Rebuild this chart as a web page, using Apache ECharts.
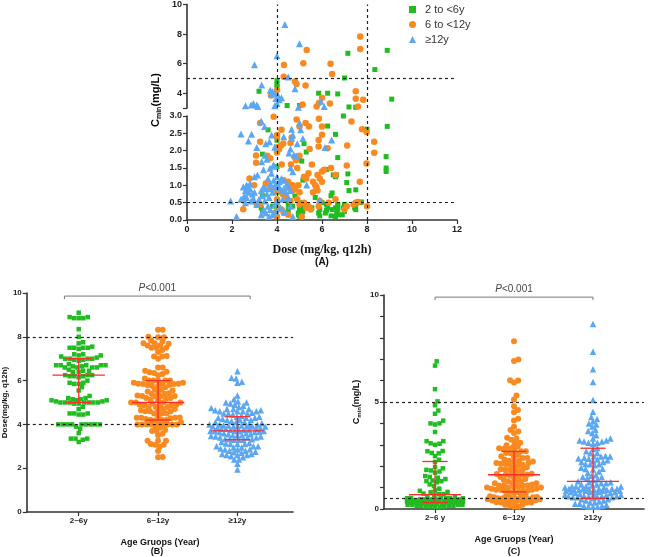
<!DOCTYPE html>
<html>
<head>
<meta charset="utf-8">
<script src="https://cdn.jsdelivr.net/npm/echarts@6/dist/echarts.min.js"></script>
<style>html,body{margin:0;padding:0;background:#fff}</style>
</head>
<body>
<div id="main" style="width:657px;height:557px;"></div>
<script>
// group names
var groupNames = ['2 to <6y', '6 to <12y', '≥12y'];
var bCats = ['2~6y', '6~12y', '≥12y'];
var cCats = ['2~6 y', '6~12y', '≥12y'];

// [dose, Cmin] per patient
var greenPts = [
  [8.9,6.9],[9.1,3.6],[8.9,2.7],[8.85,1.83],[8.85,1.5],[8.85,1.4],
  [8.35,5.6],[8.0,2.62],[7.7,0.5],[7.75,0.52],
  [7.5,3.05],[7.5,0.87],[7.5,0.45],[7.45,0.35],[7.5,0.3],[7.55,0.5],
  [7.15,6.7],[7.2,3.07],[7.15,1.33],[7.1,1.08],[7.2,0.85],
  [7.0,5.03],[6.95,3.0],[7.0,0.45],[6.95,0.35],[7.0,0.25],[6.9,0.15],[7.05,0.4],[7.0,0.3],
  [6.7,3.95],[6.7,1.8],[6.6,2.47],[6.65,1.3],[6.6,1.25],[6.7,0.45],[6.7,0.3],[6.65,0.2],[6.6,0.1],[6.75,0.15],[6.7,0.4],[6.6,0.35],
  [6.45,0.78],[6.4,0.7],[6.5,1.3],[6.4,0.12],[6.45,0.3],
  [6.25,4.0],[6.25,2.71],[6.2,1.46],[6.2,0.45],[6.25,0.35],[6.15,0.2],[6.2,0.28],
  [5.85,4.0],[5.9,0.3],[5.85,0.2],[5.9,0.12],[6.0,0.5],
  [5.7,0.65],[5.55,0.35],[5.3,1.96],
  [5.2,2.2],[5.1,1.7],[5.15,1.15],[5.1,0.15],[5.15,0.25],[5.2,0.35],[5.1,0.4],
  [5.0,3.17],[5.0,1.75],[5.0,0.5],[5.0,0.4],[5.0,0.3],[4.95,0.2],[5.0,0.12],[5.05,0.1],[4.95,0.15],[5.0,0.25],[5.05,0.35],
  [4.8,0.69],[4.7,0.4],
  [4.45,3.17],[4.5,0.55],[4.5,0.45],[4.45,0.6],[4.5,0.3],
  [4.0,4.85],[4.0,4.6],[4.0,4.45],[4.0,2.3],[4.0,1.54],[4.0,0.95],[4.0,0.8],[4.0,0.5],[4.0,0.35],
  [3.9,0.2],[3.8,0.4],[3.6,2.6],
  [3.35,1.9],[3.35,0.72],[3.3,0.35],[3.35,0.25],[3.2,4.13]
];
var orangePts = [
  [7.7,7.84],[7.7,6.99],[5.32,6.92],[4.31,5.91],[5.17,6.02],[6.38,6.0],[6.45,5.3],[4.3,5.12],
  [4.8,4.8],[4.87,4.63],[5.27,4.52],[4.0,4.22],[3.74,3.84],[5.14,3.24],[5.76,3.1],[5.86,3.33],
  [6.0,3.69],[6.35,3.3],[7.5,4.13],[7.5,3.62],[7.83,3.55],[7.6,3.1],
  [3.85,2.98],[3.25,2.8],[4.0,2.45],[4.0,2.38],[4.0,2.1],[4.2,2.6],[4.87,2.9],[5.0,2.7],
  [5.27,2.8],[5.42,2.7],[5.86,2.92],[6.0,2.7],[7.31,2.84],[7.78,2.62],[7.98,2.54],[8.32,2.26],
  [7.12,2.15],[5.85,2.31],[5.85,2.12],[6.0,2.46],[6.25,2.07],[4.65,2.38],[4.6,2.22],[4.28,2.21],
  [4.18,2.15],[3.25,2.26],[4.1,2.05],[5.45,2.05],
  [4.0,1.95],[8.32,1.94],[7.98,1.63],[7.1,1.57],[7.68,1.1],[4.62,1.6],[4.21,1.6],[3.07,1.86],
  [3.07,1.65],[3.57,1.85],[3.7,1.78],[4.8,1.8],[4.85,1.72],[5.0,1.85],[2.78,1.2],[2.98,1.0],
  [3.5,1.05],[4.3,1.15],[4.5,1.1],[4.7,1.0],[5.2,1.25],[5.4,1.35],[5.3,1.2],[5.6,1.1],
  [5.7,1.0],[5.8,1.3],[6.0,1.4],[6.1,1.45],[5.9,1.2],[6.0,1.1],[6.6,1.3],[6.4,1.5],[4.9,1.5],[5.55,1.6],
  [2.51,0.56],[2.5,0.31],[3.1,0.45],[3.7,0.9],[3.25,0.45],[4.0,0.85],[4.0,0.6],[4.0,0.1],
  [4.05,0.3],[4.2,0.3],[4.5,0.95],[4.6,0.9],[4.7,0.85],[4.4,0.65],[4.6,0.55],[4.8,0.9],
  [5.0,0.8],[4.9,0.6],[5.0,0.45],[5.2,0.5],[5.3,0.35],[5.4,0.4],[5.5,0.3],[5.8,0.85],
  [5.6,0.8],[5.9,0.55],[5.85,0.4],[5.1,0.1],[4.5,0.15],[4.3,0.2],[7.0,0.3],[7.1,0.4],
  [7.4,0.45],[7.5,0.5],[7.6,0.52],[8.0,0.4],[6.3,0.5],[6.6,0.6],[5.75,0.95],[4.95,1.0],[4.25,0.75],[3.9,0.2]
];
var bluePts = [
  [4.35,8.65],[5.0,7.35],[4.0,6.53],[3.0,5.93],[4.5,5.09],[3.32,4.55],[4.8,4.3],[3.7,4.2],
  [3.8,4.1],[3.9,4.0],[3.75,3.95],[4.05,3.85],[4.2,3.7],[3.95,3.65],[4.1,3.55],[4.0,3.3],
  [3.9,3.15],[2.6,3.15],[2.85,3.2],[2.95,3.3],[3.1,3.2],[3.15,3.1],[5.95,3.45],[6.1,3.1],[4.95,3.05],
  [2.4,2.48],[2.87,2.47],[2.73,2.28],[3.1,2.09],[3.76,2.45],[3.66,2.26],[3.3,2.85],[3.5,2.2],
  [3.9,2.1],[4.65,2.62],[4.7,2.45],[4.65,2.36],[4.9,2.2],[5.0,2.8],[5.05,2.6],[4.6,2.05],
  [6.43,2.31],[6.13,2.09],[3.45,2.7],[4.3,2.4],[5.15,2.35],
  [3.47,1.87],[3.32,1.68],[3.69,1.49],[3.84,1.59],[3.13,1.3],[4.53,1.93],[4.7,1.39],[4.75,1.88],
  [4.85,1.85],[3.55,1.75],[3.9,1.55],[3.75,1.35],[3.6,1.2],[3.85,1.15],[4.2,1.2],[4.1,1.1],
  [4.3,1.15],[4.45,1.05],[5.32,1.01],[2.65,1.01],[3.0,1.25],[3.4,1.45],[4.0,1.25],[3.95,1.05],
  [4.6,1.5],[2.8,1.05],[3.7,1.05],
  [2.2,0.1],[1.94,0.55],[2.5,0.95],[2.6,0.85],[2.7,0.95],[2.8,0.9],[2.75,0.8],[2.9,0.75],
  [2.55,0.7],[2.4,0.6],[2.6,0.5],[2.85,0.55],[2.95,0.62],[3.1,0.45],[3.3,0.85],[3.4,0.95],
  [3.5,0.9],[3.55,0.75],[3.65,0.65],[3.7,0.9],[3.8,0.8],[3.9,0.95],[3.45,0.55],[3.6,0.4],
  [3.7,0.3],[3.5,0.2],[3.8,0.15],[3.65,0.1],[3.4,0.3],[3.9,0.45],[4.0,0.55],[4.1,0.95],
  [4.2,0.85],[4.3,0.9],[4.4,0.8],[4.5,0.95],[4.6,0.85],[4.35,0.24],[4.7,0.1],[5.9,0.58],
  [4.25,0.6],[4.5,0.65],[4.15,0.35],[3.95,0.25],[4.6,0.4],[3.3,0.15],[3.2,0.6],[3.0,0.8],
  [2.65,0.65],[3.35,0.7]
];

var bMedian = [6.25, 5.0, 3.7];
var bQ1 = [5.0, 4.2, 3.3];
var bQ3 = [7.0, 6.0, 4.35];
var cMedian = [0.67, 1.6, 1.29];
var cQ1 = [0.3, 0.8, 0.5];
var cQ3 = [2.22, 2.69, 2.84];

var colors = ['#1fbd1f', '#f98a20', '#5ba7f2'];
var symbols = ['rect', 'circle', 'triangle'];
var sizes = [5, 6.5, 7];
var groups = [greenPts, orangePts, bluePts];

var font = 'Arial, "Liberation Sans", sans-serif';
var axisCol = '#333';

// beeswarm offsets (pixel layout only, values untouched)
function swarm(vals, cat, py, px, d, maxW) {
  var sorted = vals.slice().sort(function (a, b) { return a - b; });
  var placed = [], out = [];
  sorted.forEach(function (v) {
    var y = v * py;
    var near = placed.filter(function (p) { return Math.abs(p[1] - y) < d; });
    var cands = [0];
    near.forEach(function (p) {
      var h = Math.sqrt(d * d - (p[1] - y) * (p[1] - y));
      cands.push(p[0] + h, p[0] - h);
    });
    cands = cands.filter(function (x) {
      return Math.abs(x) <= maxW && near.every(function (p) {
        return (p[0] - x) * (p[0] - x) + (p[1] - y) * (p[1] - y) >= d * d - 1e-6;
      });
    });
    var x = 0;
    if (cands.length) {
      cands.sort(function (a, b) { return Math.abs(a) - Math.abs(b); });
      x = cands[0];
    } else {
      var best = -1;
      for (var t = -maxW; t <= maxW; t += 1) {
        var m = Infinity;
        near.forEach(function (p) { m = Math.min(m, Math.hypot(p[0] - t, p[1] - y)); });
        if (m > best) { best = m; x = t; }
      }
    }
    placed.push([x, y]);
    out.push([cat + x / px, v]);
  });
  return out;
}

function dashed(list) {
  return {
    silent: true, symbol: 'none', label: { show: false }, animation: false,
    lineStyle: { type: [3, 3], color: '#222', width: 1.2 },
    data: list
  };
}

function axisBase(extra) {
  var o = {
    axisLine: { show: true, lineStyle: { color: axisCol, width: 1.6 } },
    axisTick: { show: true, length: 4, lineStyle: { color: axisCol, width: 1.2 } },
    axisLabel: { color: '#222', fontFamily: font, fontWeight: 'bold', fontSize: 9, margin: 5 },
    splitLine: { show: false }
  };
  for (var k in extra) {
    if (o[k] && typeof o[k] === 'object' && typeof extra[k] === 'object') {
      for (var j in extra[k]) o[k][j] = extra[k][j];
    } else o[k] = extra[k];
  }
  return o;
}

var subRich = {
  b: { fontFamily: font, fontWeight: 'bold', fontSize: 11, color: '#111' },
  s: { fontFamily: font, fontWeight: 'bold', fontSize: 7, color: '#111', padding: [6, 0, 0, 0] }
};

function statRender(params, api) {
  var i = api.value(0), q1 = api.value(1), med = api.value(2), q3 = api.value(3);
  function ln(x1, y1, x2, y2) {
    var a = api.coord([x1, y1]), b = api.coord([x2, y2]);
    return { type: 'line', shape: { x1: a[0], y1: a[1], x2: b[0], y2: b[1] },
      style: { stroke: '#ff2a2a', lineWidth: 1.3 } };
  }
  return { type: 'group', children: [
    ln(i - 0.33, med, i + 0.33, med),
    ln(i - 0.16, q1, i + 0.16, q1),
    ln(i - 0.16, q3, i + 0.16, q3),
    ln(i, q1, i, q3)
  ] };
}

function bracketRender(params, api) {
  var a = api.coord([api.value(0), api.value(2)]);
  var b = api.coord([api.value(1), api.value(2)]);
  var st = { stroke: '#777', lineWidth: 1 };
  return { type: 'group', children: [
    { type: 'line', shape: { x1: a[0], y1: a[1], x2: b[0], y2: b[1] }, style: st },
    { type: 'line', shape: { x1: a[0], y1: a[1], x2: a[0], y2: a[1] + 3 }, style: st },
    { type: 'line', shape: { x1: b[0], y1: b[1], x2: b[0], y2: b[1] + 3 }, style: st },
    { type: 'text', x: (a[0] + b[0]) / 2, y: a[1] - 3,
      style: { text: '{i|P}{n|<0.001}', align: 'center', verticalAlign: 'bottom',
        rich: { i: { fontStyle: 'italic', fontSize: 10, fontFamily: font, fill: '#444' },
                n: { fontSize: 10, fontFamily: font, fill: '#444' } } } }
  ] };
}

var series = [];
// panel A: split points into upper (broken) and lower segment
groups.forEach(function (pts, g) {
  var common = { type: 'scatter', name: groupNames[g], symbol: symbols[g], symbolSize: sizes[g],
    itemStyle: { color: colors[g], opacity: 1 }, clip: false };
  series.push(Object.assign({}, common, { xAxisIndex: 1, yAxisIndex: 1,
    data: pts.filter(function (p) { return p[1] <= 3; }),
    markLine: g === 0 ? dashed([{ xAxis: 4 }, { xAxis: 8 }, { yAxis: 0.5 }]) : undefined }));
  series.push(Object.assign({}, common, { xAxisIndex: 0, yAxisIndex: 0,
    data: pts.filter(function (p) { return p[1] > 3; }),
    markLine: g === 0 ? dashed([{ xAxis: 4 }, { xAxis: 8 }, { yAxis: 5 }]) : undefined }));
});
// panel B: dose by age group
groups.forEach(function (pts, g) {
  series.push({ type: 'scatter', name: 'B ' + bCats[g], xAxisIndex: 2, yAxisIndex: 2,
    symbol: symbols[g], symbolSize: sizes[g] - 0.5, itemStyle: { color: colors[g], opacity: 1 }, clip: false,
    data: swarm(pts.map(function (p) { return p[0]; }), g + 1, 21.9, 79.5, 4.6, 28),
    markLine: g === 0 ? dashed([{ yAxis: 4 }, { yAxis: 8 }]) : undefined });
});
series.push({ type: 'custom', name: 'B stats', xAxisIndex: 2, yAxisIndex: 2, z: 5, silent: true,
  renderItem: statRender, encode: { x: 0, y: [1, 2, 3] },
  data: bMedian.map(function (m, i) { return [i + 1, bQ1[i], m, bQ3[i]]; }) });
series.push({ type: 'custom', name: 'B p', xAxisIndex: 2, yAxisIndex: 2, z: 5, silent: true,
  renderItem: bracketRender, encode: { x: [0, 1], y: 2 }, data: [[0.82, 3.16, 9.86]] });
// panel C: Cmin by age group
groups.forEach(function (pts, g) {
  series.push({ type: 'scatter', name: 'C ' + cCats[g], xAxisIndex: 3, yAxisIndex: 3,
    symbol: symbols[g], symbolSize: sizes[g] - 0.5, itemStyle: { color: colors[g], opacity: 1 }, clip: false,
    data: swarm(pts.map(function (p) { return p[1]; }), g + 1, 21.4, 79, 4.6, 28),
    markLine: g === 0 ? dashed([{ yAxis: 0.5 }, { yAxis: 5 }]) : undefined });
});
series.push({ type: 'custom', name: 'C stats', xAxisIndex: 3, yAxisIndex: 3, z: 5, silent: true,
  renderItem: statRender, encode: { x: 0, y: [1, 2, 3] },
  data: cMedian.map(function (m, i) { return [i + 1, cQ1[i], m, cQ3[i]]; }) });
series.push({ type: 'custom', name: 'C p', xAxisIndex: 3, yAxisIndex: 3, z: 5, silent: true,
  renderItem: bracketRender, encode: { x: [0, 1], y: 2 }, data: [[1, 3, 9.9]] });

var chart = echarts.init(document.getElementById('main'), null, { renderer: 'canvas' });
chart.setOption({
  animation: false,
  backgroundColor: '#fff',
  legend: {
    data: groupNames, orient: 'vertical', left: 404, top: -1, itemGap: 4,
    itemWidth: 7, itemHeight: 7, selectedMode: false,
    textStyle: { fontFamily: font, fontSize: 11, color: '#333', padding: [0, 0, 0, 4] }
  },
  grid: [
    { left: 187, right: 200, top: 3, height: 105 },
    { left: 187, right: 200, top: 116, height: 104 },
    { left: 26, right: 364, top: 293, height: 219 },
    { left: 384, right: 13, top: 295, height: 214 }
  ],
  xAxis: [
    { type: 'value', gridIndex: 0, min: 0, max: 12, show: false },
    axisBase({ type: 'value', gridIndex: 1, min: 0, max: 12, interval: 2,
      name: 'Dose (mg/kg, q12h)', nameLocation: 'middle', nameGap: 24,
      nameTextStyle: { fontFamily: '"Liberation Serif", "Times New Roman", serif', fontWeight: 'bold', fontSize: 12, color: '#111' } }),
    axisBase({ type: 'value', gridIndex: 2, min: 0.346, max: 3.7,
      axisTick: { customValues: [1, 2, 3] },
      axisLabel: { customValues: [1, 2, 3], fontSize: 8, formatter: function (v) { return bCats[Math.round(v) - 1]; } },
      name: 'Age Gruops (Year)', nameLocation: 'middle', nameGap: 26,
      nameTextStyle: { fontFamily: font, fontWeight: 'bold', fontSize: 9, color: '#111' } }),
    axisBase({ type: 'value', gridIndex: 3, min: 0.354, max: 3.646,
      axisTick: { customValues: [1, 2, 3] },
      axisLabel: { customValues: [1, 2, 3], fontSize: 8, formatter: function (v) { return cCats[Math.round(v) - 1]; } },
      name: 'Age Gruops (Year)', nameLocation: 'middle', nameGap: 26,
      nameTextStyle: { fontFamily: font, fontWeight: 'bold', fontSize: 9, color: '#111' } })
  ],
  yAxis: [
    axisBase({ type: 'value', gridIndex: 0, min: 3, max: 10,
      axisTick: { customValues: [3, 4, 6, 8, 10] },
      axisLabel: { customValues: [4, 6, 8, 10] } }),
    axisBase({ type: 'value', gridIndex: 1, min: 0, max: 3, interval: 0.5,
      axisLabel: { formatter: function (v) { return v.toFixed(1); } } }),
    axisBase({ type: 'value', gridIndex: 2, min: 0, max: 10, interval: 2,
      axisLabel: { fontSize: 8 },
      name: 'Dose(mg/kg, q12h)', nameLocation: 'middle', nameGap: 17,
      nameTextStyle: { fontFamily: font, fontWeight: 'bold', fontSize: 8, color: '#111' } }),
    axisBase({ type: 'value', gridIndex: 3, min: 0, max: 10, interval: 1,
      axisLabel: { fontSize: 8, formatter: function (v) { return v % 5 === 0 ? String(v) : ''; } },
      name: '{b|C}{s|min}{b|(mg/L)}', nameLocation: 'middle', nameGap: 22,
      nameTextStyle: { rich: {
        b: { fontFamily: font, fontWeight: 'bold', fontSize: 9, color: '#111' },
        s: { fontFamily: font, fontWeight: 'bold', fontSize: 6, color: '#111', padding: [5, 0, 0, 0] } } } })
  ],
  graphic: [
    { type: 'text', x: 156, y: 100, rotation: Math.PI / 2,
      style: { text: '{b|C}{s|min}{b|(mg/L)}', rich: subRich, align: 'center', verticalAlign: 'middle' } },
    { type: 'text', x: 322, y: 262, style: { text: '(A)', fontFamily: font, fontWeight: 'bold', fontSize: 10, fill: '#111', align: 'center', verticalAlign: 'middle' } },
    { type: 'text', x: 157, y: 552, style: { text: '(B)', fontFamily: font, fontWeight: 'bold', fontSize: 9, fill: '#111', align: 'center', verticalAlign: 'middle' } },
    { type: 'text', x: 514, y: 552, style: { text: '(C)', fontFamily: font, fontWeight: 'bold', fontSize: 9, fill: '#111', align: 'center', verticalAlign: 'middle' } }
  ],
  series: series
});
</script>
</body>
</html>
